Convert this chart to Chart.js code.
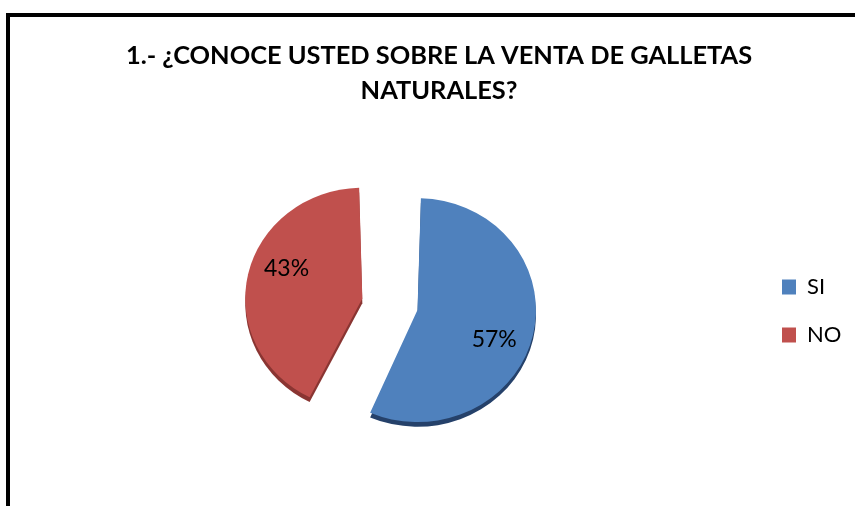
<!DOCTYPE html>
<html>
<head>
<meta charset="utf-8">
<script src="https://cdn.jsdelivr.net/npm/chart.js@4/dist/chart.umd.min.js"></script>
<style>
  html, body { margin: 0; padding: 0; background: #fff; }
  body { width: 855px; height: 506px; position: relative; overflow: hidden; }
  #frame { position: absolute; left: 6px; top: 13px; width: 870px; height: 520px;
           border-left: 4px solid #000; border-top: 4px solid #000; }
  #wrap { position: absolute; left: 18px; top: 0; width: 837px; height: 506px; }
</style>
</head>
<body>
<div id="frame"></div>
<div id="wrap"><canvas id="chart"></canvas></div>
<script>
const labels = ["SI", "NO"];
const values = [57, 43];
const sliceColors = ["#4F81BD", "#C0504D"];
const edgeColors = ["#25416A", "#8A3532"];
const sliceOffsets = [86, 140];
const titleLines = ["1.- ¿CONOCE USTED SOBRE LA VENTA DE GALLETAS", "NATURALES?"];

const FONT = "Lato, 'Open Sans', sans-serif";
const TILT = 0.945; // slight vertical squash, like the tilted 3D pie

function tiltPivot(chart) {
  const arc = chart.getDatasetMeta(0).data[0];
  return arc.y - arc.outerRadius;
}

// tilt + dark rim under each slice for the 3D look
const depth = {
  id: "depth",
  beforeDatasetsDraw(chart) {
    const ctx = chart.ctx;
    const meta = chart.getDatasetMeta(0);
    const py = tiltPivot(chart);
    ctx.save();
    ctx.translate(0, py);
    ctx.scale(1, TILT);
    ctx.translate(0, -py);
    meta.data.forEach((arc, i) => {
      const fake = Object.create(arc);
      fake.options = Object.assign({}, arc.options, {
        backgroundColor: edgeColors[i], borderColor: edgeColors[i]
      });
      ctx.save();
      ctx.translate(0, 5);
      Chart.ArcElement.prototype.draw.call(fake, ctx);
      ctx.restore();
    });
  },
  afterDatasetsDraw(chart) {
    chart.ctx.restore();
  }
};

// percentage labels inside the slices
const pctLabels = {
  id: "pctLabels",
  afterDatasetsDraw(chart) {
    const ctx = chart.ctx;
    const meta = chart.getDatasetMeta(0);
    const total = values.reduce((a, b) => a + b, 0);
    const py = tiltPivot(chart);
    ctx.save();
    ctx.font = "23px " + FONT;
    ctx.fillStyle = "#000";
    ctx.textAlign = "center";
    ctx.textBaseline = "middle";
    meta.data.forEach((arc, i) => {
      const mid = (arc.startAngle + arc.endAngle) / 2;
      const shift = (arc.options.offset || 0) / 4;
      const fix = 1 - Math.sin(Math.min(Math.PI, arc.circumference));
      const cx = arc.x + Math.cos(mid) * shift;
      const cy = arc.y + Math.sin(mid) * shift;
      const a = mid + 0.17;
      const r = (arc.outerRadius + shift * fix) * 0.7;
      const y = cy + Math.sin(a) * r;
      const pct = Math.round(values[i] / total * 100) + "%";
      ctx.fillText(pct, cx + Math.cos(a) * r, py + (y - py) * TILT);
    });
    ctx.restore();
  }
};

new Chart(document.getElementById("chart"), {
  type: "pie",
  data: {
    labels: labels,
    datasets: [{
      data: values,
      backgroundColor: sliceColors,
      borderWidth: 0,
      offset: sliceOffsets
    }]
  },
  options: {
    responsive: true,
    maintainAspectRatio: false,
    animation: false,
    radius: 97,
    layout: { padding: { left: 19, right: 14, top: 0, bottom: 0 } },
    plugins: {
      title: {
        display: true,
        text: titleLines,
        color: "#000",
        font: { family: FONT, size: 25.4, weight: "bold", lineHeight: 1.378 },
        padding: { top: 38, bottom: 8 }
      },
      legend: {
        position: "right",
        fullSize: false,
        maxWidth: 85,
        labels: {
          color: "#000",
          font: { family: FONT, size: 22 },
          boxWidth: 14,
          boxHeight: 15,
          padding: 26
        }
      },
      tooltip: { enabled: false }
    }
  },
  plugins: [depth, pctLabels]
});
</script>
</body>
</html>
